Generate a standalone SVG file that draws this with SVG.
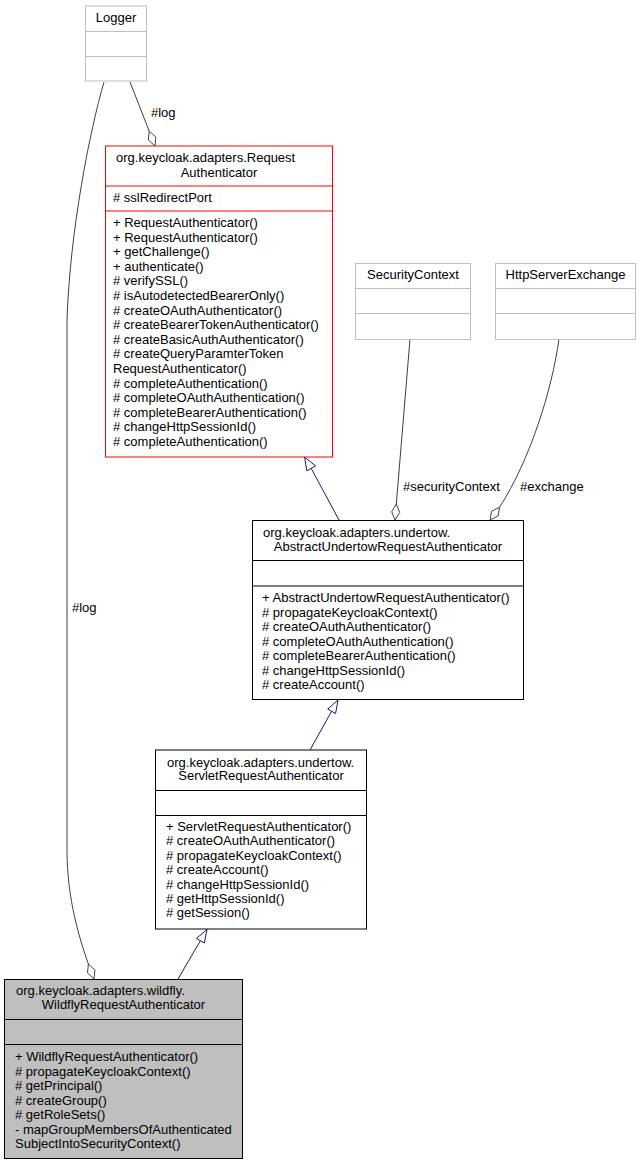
<svg xmlns="http://www.w3.org/2000/svg" width="641" height="1164" viewBox="0 0 641 1164">
<style>
text{font-family:"Liberation Sans",Arial,sans-serif;font-size:13px;fill:#000}
.c{text-anchor:middle}
.box{fill:#fff;stroke:#000;stroke-width:1}
.grey{fill:#fff;stroke:#bfbfbf;stroke-width:1}
.red{fill:#fff;stroke:#ff0000;stroke-width:1}
.cur{fill:#bfbfbf;stroke:#000;stroke-width:1}
.agg{fill:none;stroke:#404040;stroke-width:1}
.dia{fill:#fff;stroke:#404040;stroke-width:1}
.gen{fill:none;stroke:#191970;stroke-width:1}
.tri{fill:#fff;stroke:#191970;stroke-width:1}
</style>
<rect width="641" height="1164" fill="#fff"/>
<g id="connectors">
<path class="agg" d="M130,82 L149.2,131.1"/>
<polygon class="dia" points="155,146 155.8,137.1 149.2,131.1 148.4,140"/>
<text x="151" y="117">#log</text>
<path class="agg" d="M104,82 C90,130 70,230 67,320 L67,850 C67,900 80,940 88.4,964"/>
<polygon class="dia" points="94,979 94.9,970.1 88.4,964 87.5,972.9"/>
<text x="72" y="612">#log</text>
<path class="agg" d="M410,339 L396.3,504"/>
<polygon class="dia" points="395,520 399.7,512.4 396.3,504 391.7,511.7"/>
<text x="403" y="491">#securityContext</text>
<path class="agg" d="M559,339 C552,390 530,460 499.6,507.2"/>
<polygon class="dia" points="490,520 498,516 499.6,507.2 491.6,511.2"/>
<text x="520" y="491">#exchange</text>
<path class="gen" d="M339,520 L311.2,468.4"/>
<polygon class="tri" points="304.5,457 315.6,466 306.8,470.8"/>
<path class="gen" d="M310,750 L331.6,711.3"/>
<polygon class="tri" points="338,700 335.6,713.5 327.7,709.1"/>
<path class="gen" d="M178,979 L200.4,940.7"/>
<polygon class="tri" points="207,929.5 204.3,943 196.5,938.4"/>
</g>
<g id="Logger">
<rect class="grey" x="85.5" y="6" width="61" height="75"/>
<line class="grey" x1="85.5" y1="31.5" x2="146.5" y2="31.5"/>
<line class="grey" x1="85.5" y1="56.5" x2="146.5" y2="56.5"/>
<text class="c" x="116" y="22">Logger</text>
</g>
<g id="RequestAuthenticator">
<rect class="red" x="105.5" y="146" width="227" height="311"/>
<line class="red" x1="105.5" y1="186" x2="332.5" y2="186"/>
<line class="red" x1="105.5" y1="211" x2="332.5" y2="211"/>
<text x="116" y="161.5">org.keycloak.adapters.Request</text>
<text class="c" x="219" y="176.5">Authenticator</text>
<text x="113" y="201.5"># sslRedirectPort</text>
<text x="113" y="227">+ RequestAuthenticator()</text>
<text x="113" y="241.6">+ RequestAuthenticator()</text>
<text x="113" y="256.2">+ getChallenge()</text>
<text x="113" y="270.8">+ authenticate()</text>
<text x="113" y="285.4"># verifySSL()</text>
<text x="113" y="300"># isAutodetectedBearerOnly()</text>
<text x="113" y="314.6"># createOAuthAuthenticator()</text>
<text x="113" y="329.2"># createBearerTokenAuthenticator()</text>
<text x="113" y="343.8"># createBasicAuthAuthenticator()</text>
<text x="113" y="358.4"># createQueryParamterToken</text>
<text x="113" y="373">RequestAuthenticator()</text>
<text x="113" y="387.6"># completeAuthentication()</text>
<text x="113" y="402.2"># completeOAuthAuthentication()</text>
<text x="113" y="416.8"># completeBearerAuthentication()</text>
<text x="113" y="431.4"># changeHttpSessionId()</text>
<text x="113" y="446"># completeAuthentication()</text>
</g>
<g id="SecurityContext">
<rect class="grey" x="355.5" y="263.5" width="115" height="76"/>
<line class="grey" x1="355.5" y1="288.5" x2="470.5" y2="288.5"/>
<line class="grey" x1="355.5" y1="313.5" x2="470.5" y2="313.5"/>
<text class="c" x="413" y="279">SecurityContext</text>
</g>
<g id="HttpServerExchange">
<rect class="grey" x="495.5" y="263.5" width="140" height="76"/>
<line class="grey" x1="495.5" y1="288.5" x2="635.5" y2="288.5"/>
<line class="grey" x1="495.5" y1="313.5" x2="635.5" y2="313.5"/>
<text class="c" x="565.5" y="279">HttpServerExchange</text>
</g>
<g id="AbstractUndertowRequestAuthenticator">
<rect class="box" x="252.5" y="520.5" width="271" height="179"/>
<line class="box" x1="252.5" y1="560.5" x2="523.5" y2="560.5"/>
<line class="box" x1="252.5" y1="586" x2="523.5" y2="586"/>
<text x="263" y="537">org.keycloak.adapters.undertow.</text>
<text class="c" x="388" y="550.5">AbstractUndertowRequestAuthenticator</text>
<text x="262" y="602">+ AbstractUndertowRequestAuthenticator()</text>
<text x="262" y="616.5"># propagateKeycloakContext()</text>
<text x="262" y="631"># createOAuthAuthenticator()</text>
<text x="262" y="645.5"># completeOAuthAuthentication()</text>
<text x="262" y="660"># completeBearerAuthentication()</text>
<text x="262" y="674.5"># changeHttpSessionId()</text>
<text x="262" y="689"># createAccount()</text>
</g>
<g id="ServletRequestAuthenticator">
<rect class="box" x="155.5" y="750" width="211" height="179"/>
<line class="box" x1="155.5" y1="790.5" x2="366.5" y2="790.5"/>
<line class="box" x1="155.5" y1="815.5" x2="366.5" y2="815.5"/>
<text x="167" y="767">org.keycloak.adapters.undertow.</text>
<text class="c" x="261" y="780">ServletRequestAuthenticator</text>
<text x="166" y="831">+ ServletRequestAuthenticator()</text>
<text x="166" y="845.4"># createOAuthAuthenticator()</text>
<text x="166" y="859.8"># propagateKeycloakContext()</text>
<text x="166" y="874.2"># createAccount()</text>
<text x="166" y="888.6"># changeHttpSessionId()</text>
<text x="166" y="903"># getHttpSessionId()</text>
<text x="166" y="917.4"># getSession()</text>
</g>
<g id="WildflyRequestAuthenticator">
<rect class="cur" x="4.5" y="979.5" width="238" height="179"/>
<line class="cur" x1="4.5" y1="1019.5" x2="242.5" y2="1019.5"/>
<line class="cur" x1="4.5" y1="1044.5" x2="242.5" y2="1044.5"/>
<text x="16" y="994.5">org.keycloak.adapters.wildfly.</text>
<text class="c" x="123.5" y="1008.5">WildflyRequestAuthenticator</text>
<text x="15" y="1061">+ WildflyRequestAuthenticator()</text>
<text x="15" y="1075.5"># propagateKeycloakContext()</text>
<text x="15" y="1090"># getPrincipal()</text>
<text x="15" y="1104.5"># createGroup()</text>
<text x="15" y="1119"># getRoleSets()</text>
<text x="15" y="1133.5">- mapGroupMembersOfAuthenticated</text>
<text x="15" y="1148">SubjectIntoSecurityContext()</text>
</g>
</svg>
